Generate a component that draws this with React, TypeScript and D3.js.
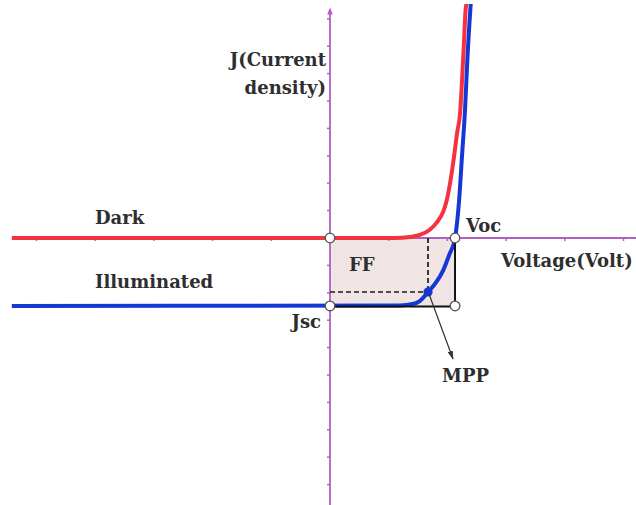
import React from "react";
import * as d3 from "d3";

// J–V characteristic of a solar cell (arbitrary units: one tick = one unit)
const darkCurve: [number, number][] = [
  [-5.42, 0], [1.1, 0], [1.36, 0.04], [1.53, 0.11], [1.7, 0.3], [1.82, 0.57],
  [1.93, 0.97], [1.99, 1.39], [2.06, 2.19], [2.11, 2.92], [2.16, 3.76],
  [2.22, 4.67], [2.25, 5.77], [2.28, 7.04], [2.31, 8.32], [2.33, 8.61],
];
const illuminatedCurve: [number, number][] = [
  [-5.42, -2.48], [1.19, -2.46], [1.41, -2.41], [1.53, -2.3], [1.67, -1.97],
  [1.81, -1.61], [1.93, -1.17], [2.03, -0.62], [2.13, 0], [2.2, 1.39],
  [2.25, 3.03], [2.3, 4.67], [2.34, 6.5], [2.39, 8.32], [2.4, 8.61],
];
const Voc = 2.13;
const Jsc = -2.48;
const Vmp = 1.67;
const Jmp = -1.97;
const xTicks = [-5, -4, -3, -2, -1, 1, 2, 3, 4, 5];
const yTicks = [-9, -8, -7, -6, -5, -4, -3, -2, -1, 1, 2, 3, 4, 5, 6, 7, 8];

const W = 636;
const H = 505;
const AXIS = "#b25fc2";
const FONT = "'DejaVu Serif', serif";
const INK = "#2e2e2e";

export default function App() {
  const x = d3.scaleLinear().domain([0, 1]).range([330, 330 + 58.7]);
  const y = d3.scaleLinear().domain([0, 1]).range([238, 238 - 27.4]);
  const line = d3
    .line<[number, number]>()
    .x((d) => x(d[0]))
    .y((d) => y(d[1]))
    .curve(d3.curveMonotoneX);

  const x0 = x(0), y0 = y(0);
  const xv = x(Voc), ys = y(Jsc);
  const xm = x(Vmp), ym = y(Jmp);

  const labelStyle = { fontFamily: FONT, fontWeight: 700, fontSize: 18, fill: INK } as const;

  return (
    <svg width={W} height={H} style={{ position: "absolute", left: 0, top: 0, background: "#fff" }}>
      <defs>
        <clipPath id="plotClip">
          <rect x={0} y={4} width={W} height={H} />
        </clipPath>
        <marker id="arrowHead" viewBox="0 0 10 10" refX={9} refY={5} markerWidth={9} markerHeight={9} orient="auto" markerUnits="userSpaceOnUse">
          <path d="M0,2 L10,5 L0,8 Z" fill="#333" />
        </marker>
        <marker id="axisHead" viewBox="0 0 10 10" refX={5} refY={5} markerWidth={7} markerHeight={7} orient="auto" markerUnits="userSpaceOnUse">
          <path d="M0,1 L10,5 L0,9 Z" fill={AXIS} />
        </marker>
      </defs>

      {/* fill factor region */}
      <rect x={x0} y={y0} width={xv - x0} height={ys - y0} fill="#f1e4e4" />

      {/* axes */}
      <line x1={12} y1={y0} x2={W} y2={y0} stroke={AXIS} strokeWidth={1.8} />
      <line x1={x0} y1={H} x2={x0} y2={11} stroke={AXIS} strokeWidth={1.8} markerEnd="url(#axisHead)" />
      {xTicks.map((t) => (
        <line key={`xt${t}`} x1={x(t)} x2={x(t)} y1={y0} y2={y0 + 3} stroke={AXIS} strokeWidth={1.5} />
      ))}
      {yTicks.map((t) => (
        <line key={`yt${t}`} x1={x0 - 3} x2={x0} y1={y(t)} y2={y(t)} stroke={AXIS} strokeWidth={1.5} />
      ))}

      {/* maximum power point guides */}
      <line x1={xm} y1={y0} x2={xm} y2={ym} stroke="#1a1a1a" strokeWidth={1.7} strokeDasharray="5,3" />
      <line x1={x0} y1={ym} x2={xm} y2={ym} stroke="#1a1a1a" strokeWidth={1.7} strokeDasharray="5,3" />

      {/* curves */}
      <g clipPath="url(#plotClip)">
        <path d={line(darkCurve) ?? ""} fill="none" stroke="#f5333f" strokeWidth={4} />
        <path d={line(illuminatedCurve) ?? ""} fill="none" stroke="#1538d4" strokeWidth={4} />
      </g>

      {/* rectangle edges Voc x Jsc */}
      <line x1={x0} y1={ys + 0.5} x2={xv} y2={ys + 0.5} stroke="#111" strokeWidth={2} />
      <line x1={xv} y1={y0} x2={xv} y2={ys} stroke="#111" strokeWidth={2} />

      {/* key points */}
      {[[0, 0], [Voc, 0], [0, Jsc], [Voc, Jsc]].map(([a, b], i) => (
        <circle key={`pt${i}`} cx={x(a)} cy={y(b)} r={4.8} fill="#fff" stroke="#555" strokeWidth={1.3} />
      ))}
      <circle cx={xm} cy={ym} r={4.6} fill="#1538d4" />

      {/* MPP pointer */}
      <line x1={xm + 1} y1={ym + 2} x2={453} y2={359} stroke="#333" strokeWidth={1.2} markerEnd="url(#arrowHead)" />

      {/* labels */}
      <text x={95} y={224} style={labelStyle}>Dark</text>
      <text x={95} y={288} style={labelStyle}>Illuminated</text>
      <text x={326} y={66} textAnchor="end" style={labelStyle}>J(Current</text>
      <text x={326} y={94} textAnchor="end" style={labelStyle}>density)</text>
      <text x={466} y={232} style={labelStyle}>Voc</text>
      <text x={501} y={267} style={labelStyle}>Voltage(Volt)</text>
      <text x={349} y={271} style={labelStyle}>FF</text>
      <text x={321} y={328} textAnchor="end" style={labelStyle}>Jsc</text>
      <text x={442} y={382} style={labelStyle}>MPP</text>
    </svg>
  );
}
